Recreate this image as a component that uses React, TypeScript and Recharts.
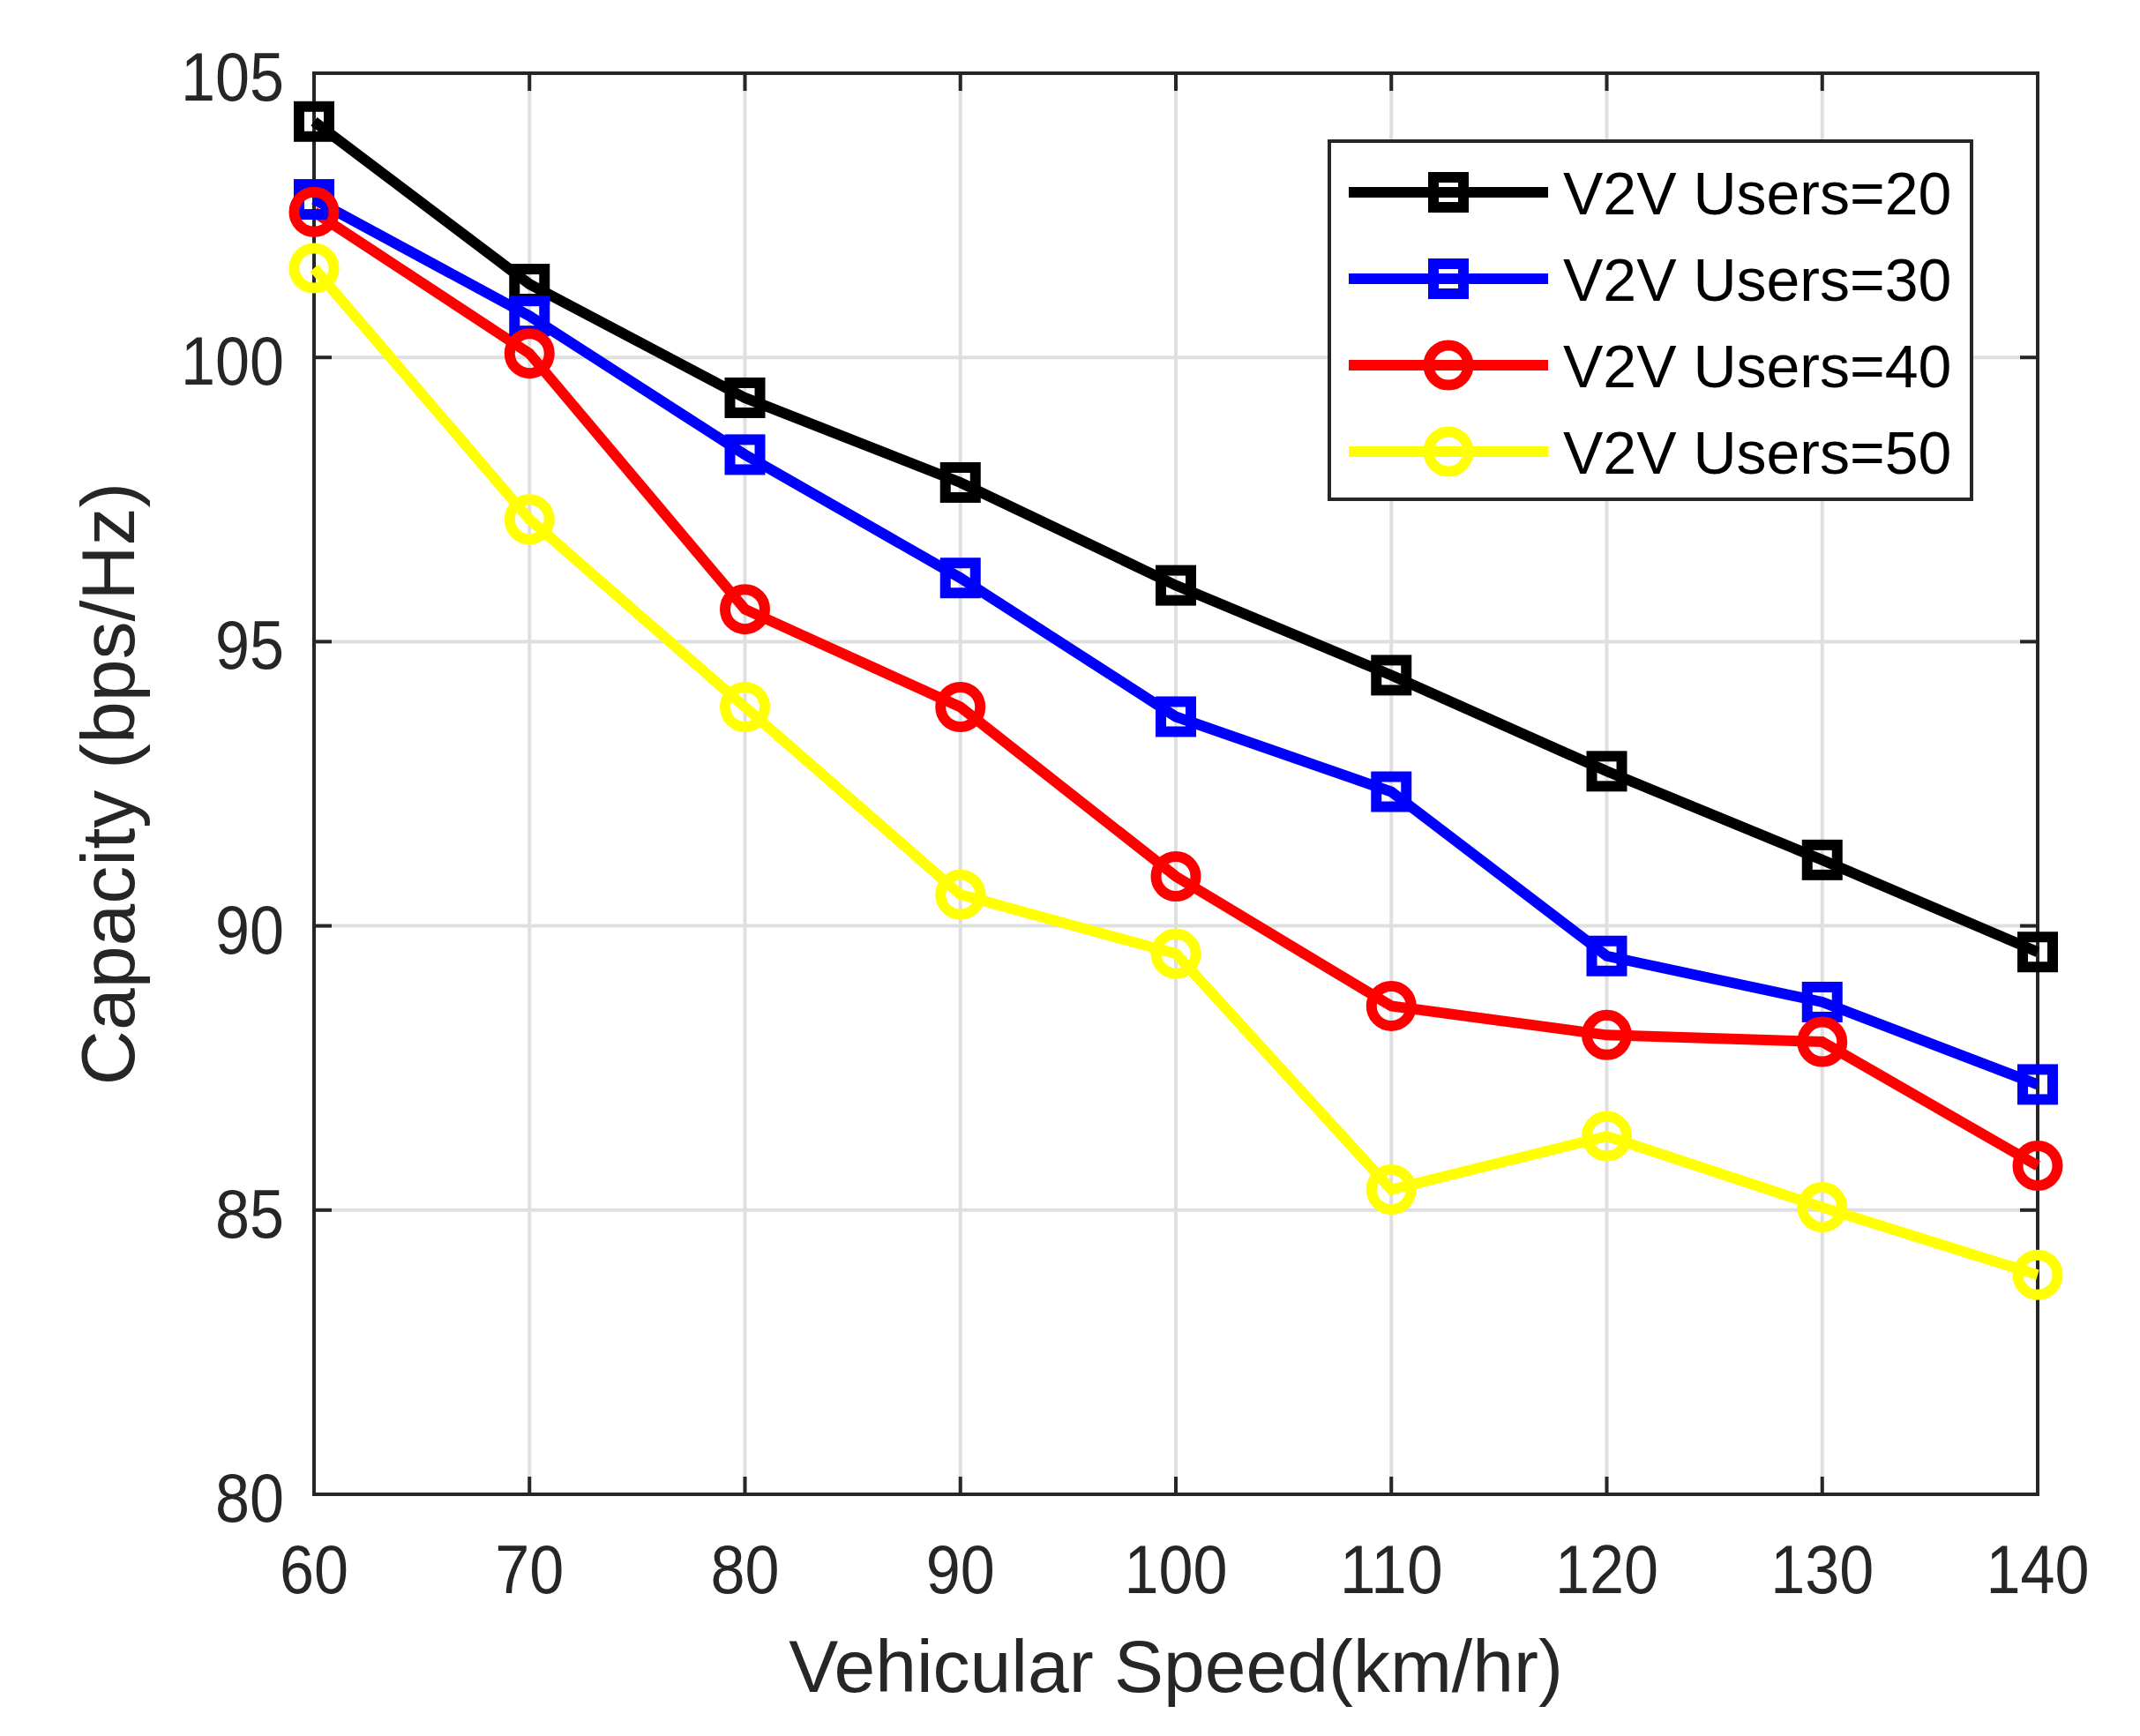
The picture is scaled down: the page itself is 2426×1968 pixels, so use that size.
import { CartesianGrid, Line, LineChart, ReferenceArea, XAxis, YAxis } from "recharts";

const speeds = [60, 70, 80, 90, 100, 110, 120, 130, 140];
const users20 = [104.15, 101.29, 99.29, 97.8, 95.99, 94.41, 92.72, 91.16, 89.54];
const users30 = [102.78, 100.73, 98.29, 96.12, 93.68, 92.36, 89.47, 88.66, 87.21];
const users40 = [102.56, 100.07, 95.57, 93.85, 90.87, 88.59, 88.08, 87.96, 85.78];
const users50 = [101.57, 97.15, 93.85, 90.55, 89.51, 85.36, 86.3, 85.05, 83.86];
const yTicks = [80, 85, 90, 95, 100, 105];

const series = [
  { key: "u20", name: "V2V Users=20", color: "#000000", marker: "square", values: users20 },
  { key: "u30", name: "V2V Users=30", color: "#0000ff", marker: "square", values: users30 },
  { key: "u40", name: "V2V Users=40", color: "#ff0000", marker: "circle", values: users40 },
  { key: "u50", name: "V2V Users=50", color: "#ffff00", marker: "circle", values: users50 },
];

const data = speeds.map((speed, i) => {
  const row: Record<string, number> = { speed };
  series.forEach((s) => (row[s.key] = s.values[i]));
  return row;
});

const FONT = "'Liberation Sans', Arial, Helvetica, sans-serif";
const AXIS = "#262626";
const W = 2410;
const H = 1950;
const MARGIN = { top: 75, right: 108, bottom: 64, left: 98 };
const X_AXIS_H = 200;
const Y_AXIS_W = 250;
const PLOT_W = W - MARGIN.left - MARGIN.right - Y_AXIS_W;
const PLOT_H = H - MARGIN.top - MARGIN.bottom - X_AXIS_H;
const TICK_LEN = 20;
const TICK_FONT = 78;
const DIGIT_W = 39;

function Marker({ kind, cx, cy, color }: { kind: string; cx: number; cy: number; color: string }) {
  if (kind === "square") {
    return <rect x={cx - 17} y={cy - 17} width={34} height={34} fill="none" stroke={color} strokeWidth={12} />;
  }
  return <circle cx={cx} cy={cy} r={22.5} fill="none" stroke={color} strokeWidth={12} />;
}

const makeDot = (kind: string, color: string) => (props: any) => (
  <Marker key={`dot-${props.index}`} kind={kind} cx={props.cx} cy={props.cy} color={color} />
);

function XTick(props: any) {
  const { x, y, payload } = props;
  const label = String(payload.value);
  return (
    <g>
      <line x1={x} x2={x} y1={y} y2={y - TICK_LEN} stroke={AXIS} strokeWidth={4} />
      <line x1={x} x2={x} y1={y - PLOT_H} y2={y - PLOT_H + TICK_LEN} stroke={AXIS} strokeWidth={4} />
      <text
        x={x}
        y={y + 112}
        textAnchor="middle"
        fontSize={TICK_FONT}
        fontFamily={FONT}
        fill={AXIS}
        textLength={label.length * DIGIT_W}
        lengthAdjust="spacingAndGlyphs"
      >
        {label}
      </text>
    </g>
  );
}

function YTick(props: any) {
  const { x, y, payload } = props;
  const label = String(payload.value);
  return (
    <g>
      <line x1={x} x2={x + TICK_LEN} y1={y} y2={y} stroke={AXIS} strokeWidth={4} />
      <line x1={x + PLOT_W} x2={x + PLOT_W - TICK_LEN} y1={y} y2={y} stroke={AXIS} strokeWidth={4} />
      <text
        x={x - 34}
        y={y + 31}
        textAnchor="end"
        fontSize={TICK_FONT}
        fontFamily={FONT}
        fill={AXIS}
        textLength={label.length * DIGIT_W}
        lengthAdjust="spacingAndGlyphs"
      >
        {label}
      </text>
    </g>
  );
}

function LegendBox() {
  return (
    <svg
      width={732}
      height={410}
      style={{ position: "absolute", left: 1497, top: 150, overflow: "visible" }}
    >
      <rect x={2} y={2} width={728} height={406} fill="#ffffff" stroke={AXIS} strokeWidth={4} />
      {series.map((s, i) => {
        const cy = 60 + i * 98;
        return (
          <g key={s.key}>
            <line x1={24} x2={250} y1={cy} y2={cy} stroke={s.color} strokeWidth={12} />
            <Marker kind={s.marker} cx={137} cy={cy} color={s.color} />
            <text x={267} y={cy + 25} fontSize={68} fontFamily={FONT} fill="#000000">
              {s.name}
            </text>
          </g>
        );
      })}
    </svg>
  );
}

export default function App() {
  return (
    <div style={{ position: "relative", width: W, height: H }}>
      <LineChart width={W} height={H} data={data} margin={MARGIN}>
        <CartesianGrid stroke="#dfdfdf" strokeWidth={4} />
        <XAxis
          dataKey="speed"
          type="number"
          domain={[60, 140]}
          ticks={speeds}
          height={X_AXIS_H}
          tick={<XTick />}
          tickSize={0}
          tickMargin={0}
          axisLine={false}
          tickLine={false}
          label={(p: any) => {
            const vb = p.viewBox;
            return (
              <text
                x={vb.x + vb.width / 2}
                y={vb.y + 224}
                textAnchor="middle"
                fontSize={84}
                fontFamily={FONT}
                fill={AXIS}
              >
                Vehicular Speed(km/hr)
              </text>
            );
          }}
        />
        <YAxis
          type="number"
          domain={[80, 105]}
          ticks={yTicks}
          width={Y_AXIS_W}
          tick={<YTick />}
          tickSize={0}
          tickMargin={0}
          axisLine={false}
          tickLine={false}
          label={(p: any) => {
            const vb = p.viewBox;
            const cx = vb.x + 46;
            const cy = vb.y + vb.height / 2;
            return (
              <text
                x={cx}
                y={cy}
                transform={`rotate(-90 ${cx} ${cy})`}
                textAnchor="middle"
                fontSize={86}
                fontFamily={FONT}
                fill={AXIS}
              >
                Capacity (bps/Hz)
              </text>
            );
          }}
        />
        <ReferenceArea
          x1={60}
          x2={140}
          y1={80}
          y2={105}
          fill="none"
          fillOpacity={0}
          stroke={AXIS}
          strokeWidth={4}
          ifOverflow="visible"
        />
        {series.map((s) => (
          <Line
            key={s.key}
            dataKey={s.key}
            name={s.name}
            stroke={s.color}
            strokeWidth={12}
            dot={makeDot(s.marker, s.color)}
            activeDot={false}
            isAnimationActive={false}
          />
        ))}
      </LineChart>
      <LegendBox />
    </div>
  );
}
